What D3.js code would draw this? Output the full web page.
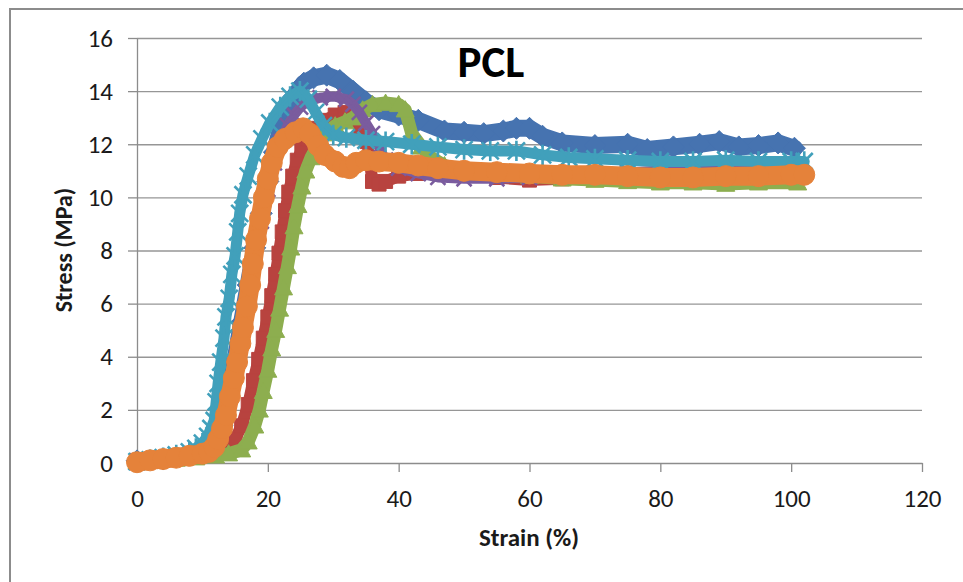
<!DOCTYPE html>
<html>
<head>
<meta charset="utf-8">
<script src="https://cdn.jsdelivr.net/npm/d3@7"></script>
<style>
  body { margin: 0; background: #fff; }
  svg { display: block; font-family: Carlito, Calibri, Lato, sans-serif; }
</style>
</head>
<body>
<svg id="chart" width="963" height="582"></svg>
<script>
// values (strain %, stress MPa)
const xTicks = [0, 20, 40, 60, 80, 100, 120];
const yTicks = [0, 2, 4, 6, 8, 10, 12, 14, 16];

const blueStrain = [0, 4, 8, 10, 11, 12, 13, 14, 15, 16, 17, 18, 19, 20, 21, 22, 23, 24, 25.5, 27, 29, 31, 33, 35, 37, 40, 43, 47, 50, 53, 56, 58, 60, 62, 65, 70, 75, 78, 82, 86, 89, 92, 95, 98, 100.5];
const blueStress = [0.08, 0.15, 0.3, 0.4, 0.5, 0.7, 1.4, 2.6, 3.9, 5.3, 6.7, 8.1, 9.4, 10.6, 11.7, 12.6, 13.3, 13.8, 14.3, 14.5, 14.6, 14.4, 14.0, 13.6, 13.3, 13.1, 12.9, 12.5, 12.45, 12.4, 12.5, 12.6, 12.6, 12.3, 12.05, 11.95, 12.0, 11.8, 11.9, 12.0, 12.1, 11.9, 11.95, 12.05, 11.85];

const redStrain = [0, 3, 6, 9, 12, 14, 15, 16, 17, 17.8, 18.6, 19.3, 20.0, 20.6, 21.2, 21.7, 22.2, 22.7, 23.2, 23.8, 24.5, 25.2, 26.1, 27.2, 28.7, 30.3, 31.8, 33, 34.2, 35.2, 36, 37, 38, 40, 43, 46, 50, 55, 60, 65, 70, 75, 80, 85, 90, 95, 100];
const redStress = [0.1, 0.18, 0.25, 0.33, 0.45, 0.6, 0.9, 1.4, 2.2, 3.1, 3.9, 4.7, 5.5, 6.3, 7.1, 7.9, 8.7, 9.5, 10.2, 10.8, 11.4, 11.8, 12.2, 12.6, 12.9, 13.1, 13.2, 13.0, 12.6, 12.1, 10.6, 10.5, 10.6, 10.8, 10.9, 11.0, 10.9, 10.75, 10.65, 10.7, 10.8, 10.9, 10.95, 11.0, 11.0, 11.1, 11.2];

const greenStrain = [0, 3, 6, 9, 12, 14, 16, 17, 18, 18.7, 19.3, 20.0, 20.6, 21.2, 21.8, 22.4, 23.0, 23.5, 24.0, 24.6, 25.2, 25.8, 26.6, 27.7, 28.7, 30.3, 31.8, 33, 34.5, 36, 38, 40, 41, 42, 43.5, 45, 47, 50, 55, 60, 65, 70, 75, 80, 85, 90, 95, 101];
const greenStress = [0.05, 0.1, 0.15, 0.2, 0.27, 0.35, 0.5, 0.8, 1.4, 2.0, 2.7, 3.5, 4.3, 5.0, 5.8, 6.6, 7.4, 8.1, 8.9, 9.7, 10.4, 11.0, 11.5, 12.0, 12.4, 12.7, 12.85, 13.0, 13.3, 13.5, 13.55, 13.5, 13.3, 12.4, 11.9, 11.5, 11.2, 11.0, 10.85, 10.8, 10.7, 10.65, 10.6, 10.55, 10.55, 10.5, 10.55, 10.55];

const purpleStrain = [0, 4, 8, 10, 11, 12, 13, 14, 15, 16, 17, 18, 19, 20, 21, 22, 23, 24, 25, 26, 28, 30, 32, 33, 34, 35, 36, 37, 38, 40, 43, 46, 50, 55, 60, 65, 70, 75, 80, 85, 90, 95, 100];
const purpleStress = [0.05, 0.15, 0.3, 0.4, 0.5, 0.7, 1.3, 2.4, 3.7, 5.0, 6.4, 7.8, 9.1, 10.3, 11.3, 12.1, 12.7, 13.1, 13.4, 13.6, 13.75, 13.8, 13.7, 13.5, 13.2, 12.8, 12.4, 11.9, 11.4, 11.1, 10.9, 10.75, 10.7, 10.7, 10.75, 10.8, 10.9, 10.95, 11.0, 11.0, 11.0, 11.0, 11.0];

const cyanStrain = [0, 2, 4, 6, 8, 9, 10, 10.8, 11.3, 11.8, 12.1, 12.4, 12.8, 13.3, 13.6, 14.1, 14.5, 15.0, 15.4, 15.7, 16.2, 17.0, 18.0, 19.1, 20.3, 21.9, 23.4, 24.9, 26.2, 27.3, 28.5, 30, 32, 35, 38, 42, 46, 50, 54, 58, 62, 66, 70, 75, 80, 85, 90, 95, 100, 102];
const cyanStress = [0.05, 0.12, 0.2, 0.3, 0.42, 0.55, 0.75, 1.0, 1.3, 1.6, 2.3, 3.0, 3.8, 4.7, 5.5, 6.2, 7.1, 7.8, 8.7, 9.4, 10.1, 10.8, 11.6, 12.2, 12.8, 13.4, 13.8, 14.0, 13.7, 13.2, 12.7, 12.35, 12.25, 12.15, 12.1, 12.0, 11.9, 11.8, 11.75, 11.75, 11.6, 11.5, 11.45, 11.4, 11.35, 11.35, 11.4, 11.35, 11.35, 11.35];

const orangeStrain = [0, 2, 4, 6, 8, 10, 11, 11.8, 12.4, 13.0, 13.6, 14.2, 14.8, 15.3, 15.8, 16.2, 16.8, 17.3, 17.7, 18.2, 18.8, 19.4, 20.0, 20.6, 21.5, 22.6, 24.2, 25.4, 26.4, 27.7, 28.7, 30.3, 31.5, 32.5, 33.5, 35, 37, 40, 43, 46, 50, 55, 60, 65, 70, 75, 80, 85, 90, 95, 100, 102];
const orangeStress = [0.03, 0.1, 0.15, 0.2, 0.27, 0.35, 0.42, 0.6, 0.9, 1.3, 1.8, 2.5, 3.2, 3.8, 4.5, 5.1, 5.9, 6.7, 7.5, 8.4, 9.2, 10.0, 10.7, 11.3, 11.9, 12.2, 12.45, 12.6, 12.4, 11.95, 11.6, 11.35, 11.15, 11.1, 11.3, 11.4, 11.35, 11.3, 11.2, 11.1, 11.0, 10.95, 10.9, 10.85, 10.85, 10.8, 10.75, 10.75, 10.8, 10.8, 10.85, 10.85];

const svg = d3.select("#chart");
const font = "Carlito, Calibri, Lato, sans-serif";

// chart frame
svg.append("rect")
  .attr("x", 10).attr("y", 9)
  .attr("width", 980).attr("height", 620)
  .attr("fill", "none")
  .attr("stroke", "#8c8c8c")
  .attr("stroke-width", 2);

const x = d3.scaleLinear().domain([0, 120]).range([137, 922]);
const y = d3.scaleLinear().domain([0, 16]).range([463, 38]);

// gridlines
svg.append("g")
  .attr("transform", "translate(137,0)")
  .call(d3.axisLeft(y).tickValues(yTicks.slice(1)).tickSize(-(922 - 137)).tickFormat(""))
  .call(g => g.select(".domain").remove())
  .call(g => g.selectAll("line").attr("stroke", "#969696").attr("stroke-width", 1.3));

// y axis
svg.append("g")
  .attr("transform", "translate(137,0)")
  .call(d3.axisLeft(y).tickValues(yTicks).tickSizeInner(9).tickSizeOuter(0).tickPadding(15))
  .call(g => g.select(".domain").attr("stroke", "#8c8c8c").attr("stroke-width", 1.3))
  .call(g => g.selectAll("line").attr("stroke", "#8c8c8c").attr("stroke-width", 1.3))
  .call(g => g.selectAll("text").attr("fill", "#1a1a1a").style("font-size", "25px").style("font-family", font));

// x axis
svg.append("g")
  .attr("transform", "translate(0,463)")
  .call(d3.axisBottom(x).tickValues(xTicks).tickSizeInner(9).tickSizeOuter(0).tickPadding(17))
  .call(g => g.select(".domain").attr("stroke", "#8c8c8c").attr("stroke-width", 1.3))
  .call(g => g.selectAll("line").attr("stroke", "#8c8c8c").attr("stroke-width", 1.3))
  .call(g => g.selectAll("text").attr("fill", "#1a1a1a").style("font-size", "25px").style("font-family", font));

// markers
function markerPath(kind, r) {
  if (kind === "diamond") return `M0,${-r}L${r},0L0,${r}L${-r},0Z`;
  if (kind === "square") return `M${-r},${-r}h${2 * r}v${2 * r}h${-2 * r}Z`;
  if (kind === "triangle") return `M0,${-r}L${r},${r * 0.8}L${-r},${r * 0.8}Z`;
  if (kind === "x") return `M${-r},${-r}L${r},${r}M${r},${-r}L${-r},${r}`;
  if (kind === "star") return `M${-r},${-r}L${r},${r}M${r},${-r}L${-r},${r}M0,${-r * 1.2}L0,${r * 1.2}`;
  return `M${r},0A${r},${r} 0 1,1 ${-r},0A${r},${r} 0 1,1 ${r},0Z`;
}

const series = [
  { sx: blueStrain, sy: blueStress, color: "#4673b0", marker: "diamond", r: 11, band: 17 },
  { sx: redStrain, sy: redStress, color: "#b8433f", marker: "square", r: 7, band: 12 },
  { sx: greenStrain, sy: greenStress, color: "#8dae4f", marker: "triangle", r: 9, band: 13 },
  { sx: purpleStrain, sy: purpleStress, color: "#7a5c9e", marker: "x", r: 7.5, band: 10 },
  { sx: cyanStrain, sy: cyanStress, color: "#41a0bb", marker: "star", r: 8.5, band: 11 },
  { sx: orangeStrain, sy: orangeStress, color: "#e5823a", marker: "circle", r: 10.5, band: 19 }
];

const line = d3.line().x(d => x(d[0])).y(d => y(d[1]));
const plot = svg.append("g");

series.forEach(s => {
  const pts = d3.zip(s.sx, s.sy);
  const g = plot.append("g");
  g.append("path")
    .attr("d", line(pts))
    .attr("fill", "none")
    .attr("stroke", s.color)
    .attr("stroke-width", s.band)
    .attr("stroke-linejoin", "round")
    .attr("stroke-linecap", "round");
  const stroked = s.marker === "x" || s.marker === "star";
  g.selectAll("path.m")
    .data(pts)
    .join("path")
    .attr("class", "m")
    .attr("transform", d => `translate(${x(d[0])},${y(d[1])})`)
    .attr("d", markerPath(s.marker, s.r))
    .attr("fill", stroked ? "none" : s.color)
    .attr("stroke", s.color)
    .attr("stroke-width", stroked ? 2.6 : 1);
});

// titles
svg.append("text")
  .attr("x", 491).attr("y", 77)
  .attr("text-anchor", "middle")
  .style("font-size", "45px").style("font-weight", "bold")
  .attr("fill", "#000")
  .text("PCL");

svg.append("text")
  .attr("x", 529).attr("y", 546)
  .attr("text-anchor", "middle")
  .style("font-size", "25px").style("font-weight", "bold")
  .attr("fill", "#1a1a1a")
  .text("Strain (%)");

svg.append("text")
  .attr("transform", "translate(72,250) rotate(-90)")
  .attr("text-anchor", "middle")
  .style("font-size", "24px").style("font-weight", "bold")
  .attr("fill", "#1a1a1a")
  .text("Stress (MPa)");
</script>
</body>
</html>
